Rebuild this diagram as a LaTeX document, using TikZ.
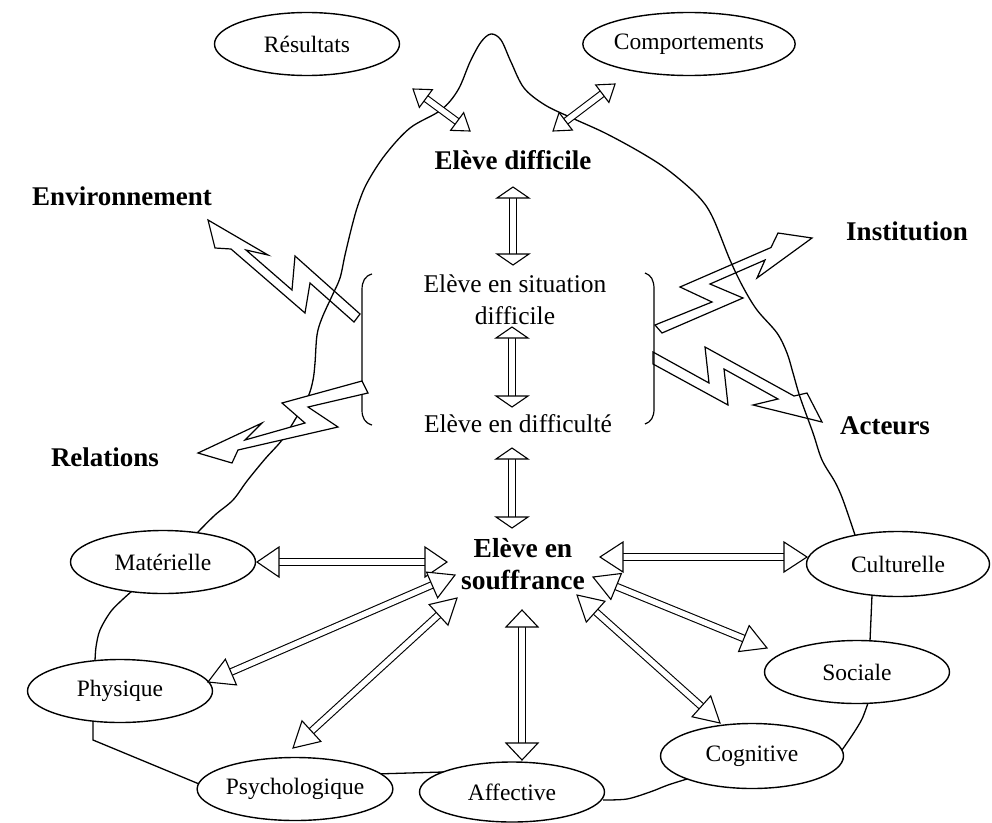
\documentclass[tikz,border=0pt]{standalone}
\usepackage{fontspec}
\setmainfont{Liberation Serif}
\usetikzlibrary{calc,shapes.geometric}
\newcommand\dharrow[4]{%
  \coordinate (hA) at ($(#1)!#3!(#2)$);
  \coordinate (hB) at ($(#2)!#3!(#1)$);
  \draw[shaft] (hA) -- (hB);
  \draw[ahead] (#1) -- ($(hA)!#4!90:(#1)$) -- ($(hA)!#4!-90:(#1)$) -- cycle;
  \draw[ahead] (#2) -- ($(hB)!#4!90:(#2)$) -- ($(hB)!#4!-90:(#2)$) -- cycle;
}
\begin{document}
\begin{tikzpicture}[x=1pt,y=-1pt,
  ell/.style={draw,fill=white,ellipse,line width=1.4pt,inner sep=0pt,minimum width=185pt,minimum height=63pt,font=\fontsize{23.5}{26}\selectfont},
  blob/.style={line width=1.3pt},
  shaft/.style={double,line width=1.1pt,double distance=5.5pt},
  ahead/.style={draw,fill=white,line width=1.1pt,line join=miter},
  bolt/.style={draw,line width=1.2pt,line join=miter},
  lab/.style={font=\fontsize{27}{32}\selectfont\bfseries},
  mid/.style={font=\fontsize{25.5}{32}\selectfont,align=center},
  brk/.style={line width=1.2pt},
]
\useasboundingbox (0,0) rectangle (992,822);

% outline of the figure
\draw[blob] plot[smooth,tension=0.55] coordinates {(197,533) (215,515) (233,500) (247,481) (265,459) (282,440) (296,418) (308,397) (313,380) (315,363) (317,335) (322,318) (332,296) (340,278) (345,255) (352,226) (358,205) (367,183) (385,155) (410,128) (441,110) (458,90) (470,62) (481,42) (491,34) (501,40) (511,62) (524,88) (545,105) (572,118) (605,133) (640,152) (668,170) (697,195) (712,216) (730,260) (743,287) (757,310) (777,333) (787,353) (793,373) (800,397) (813,433) (822,460) (835,482) (843,500) (855,535)};
\draw[blob] plot[smooth] coordinates {(132,591) (112,610) (100,630) (96,647) (95,661)};
\draw[blob] (93,721) -- (93,740) -- (204,786);
\draw[blob] (375,774) -- (443,772);
\draw[blob] plot[smooth] coordinates {(603,800) (627,799) (650,792) (668,785) (687,779)};
\draw[blob] plot[smooth] coordinates {(842,750) (853,734) (862,719) (868,703)};
\draw[blob] (870,641) -- (872,595);

% brackets
\draw[brk] (372,274) .. controls (365,276) and (362,281) .. (362,290) -- (362,410) .. controls (362,418) and (365,423) .. (372,425);
\draw[brk] (645,273) .. controls (651,275) and (654,280) .. (654,289) -- (654,409) .. controls (654,417) and (651,422) .. (645,424);

% lightning arrows
\draw[bolt] (208,220) -- (215,248) -- (231,249) -- (305,313) -- (310,283) -- (354,322) -- (360,314) -- (295,256) -- (292,290) -- (246,250) -- (268,255) -- cycle;
\draw[bolt,fill=white] (198,453) -- (232,463) -- (238,450) -- (338,427) -- (308,407) -- (368,393) -- (362,381) -- (282,403) -- (305,423) -- (245,440) -- (262,423) -- cycle;
\draw[bolt] (812,238) -- (778,233) -- (771,247.5) -- (680,287) -- (712,302) -- (655,325) -- (662,333) -- (743,298) -- (710,284) -- (765,260) -- (757,278) -- cycle;
\draw[bolt] (822,422) -- (807,393) -- (794,396) -- (705,347) -- (709,383) -- (653,352) -- (653,364) -- (728,405) -- (724,369) -- (778,399) -- (753,405) -- cycle;

% ellipses
\node[ell] (res) at (307,44) {Résultats};
\node[ell] (com) at (689,44) {Comportements};
\node[ell] (mat) at (163,562) {Matérielle};
\node[ell] (phy) at (120,691) {Physique};
\node[ell] (psy) at (295,789) {Psychologique};
\node[ell,minimum height=60pt] (aff) at (512,792) {Affective};
\node[ell,minimum width=183pt,minimum height=65pt] (cog) at (752,756) {Cognitive};
\node[ell] (soc) at (857,672) {Sociale};
\node[ell,minimum width=183pt,minimum height=65pt] (cul) at (898,564) {Culturelle};

% texts
\node[lab] (envt) at (122,196) {Environnement};
\node[lab] (inst) at (907,231) {Institution};
\node[lab] (act) at (885,426) {Acteurs};
\node[lab] (rel) at (105,457) {Relations};
\node[lab] (edif) at (513,160) {Elève difficile};
\node[mid] (esit) at (515,300) {Elève en situation\\difficile};
\node[mid] (edfc) at (518,424) {Elève en difficulté};
\node[lab,align=center,font=\fontsize{27.5}{32}\selectfont\bfseries] (esouf) at (523,564) {Elève en\\souffrance};

% arrow end points
\coordinate (a1) at (413,89);  \coordinate (b1) at (470,131);
\coordinate (a2) at (615,84);  \coordinate (b2) at (553,131);
\coordinate (a3) at (513,187); \coordinate (b3) at (513,265);
\coordinate (a4) at (512,327); \coordinate (b4) at (512,407);
\coordinate (a5) at (512,448); \coordinate (b5) at (512,528);
\coordinate (a6) at (257,562); \coordinate (b6) at (447,562);
\coordinate (a7) at (208,682); \coordinate (b7) at (455,575);
\coordinate (a8) at (293,748); \coordinate (b8) at (457,598);
\coordinate (a9) at (522,610); \coordinate (b9) at (522,760);
\coordinate (a10) at (577,595); \coordinate (b10) at (720,723);
\coordinate (a11) at (593,577); \coordinate (b11) at (767,648);
\coordinate (a12) at (600,557); \coordinate (b12) at (807,557);

\dharrow{a1}{b1}{16pt}{11pt}
\dharrow{a2}{b2}{16pt}{11pt}
\dharrow{a3}{b3}{11pt}{16pt}
\dharrow{a4}{b4}{11pt}{16pt}
\dharrow{a5}{b5}{11pt}{16pt}
\dharrow{a6}{b6}{22pt}{15pt}
\dharrow{a7}{b7}{25pt}{14pt}
\dharrow{a8}{b8}{25pt}{14pt}
\dharrow{a9}{b9}{17pt}{16pt}
\dharrow{a10}{b10}{25pt}{14pt}
\dharrow{a11}{b11}{25pt}{14pt}
\dharrow{a12}{b12}{23pt}{15pt}
\end{tikzpicture}
\end{document}
